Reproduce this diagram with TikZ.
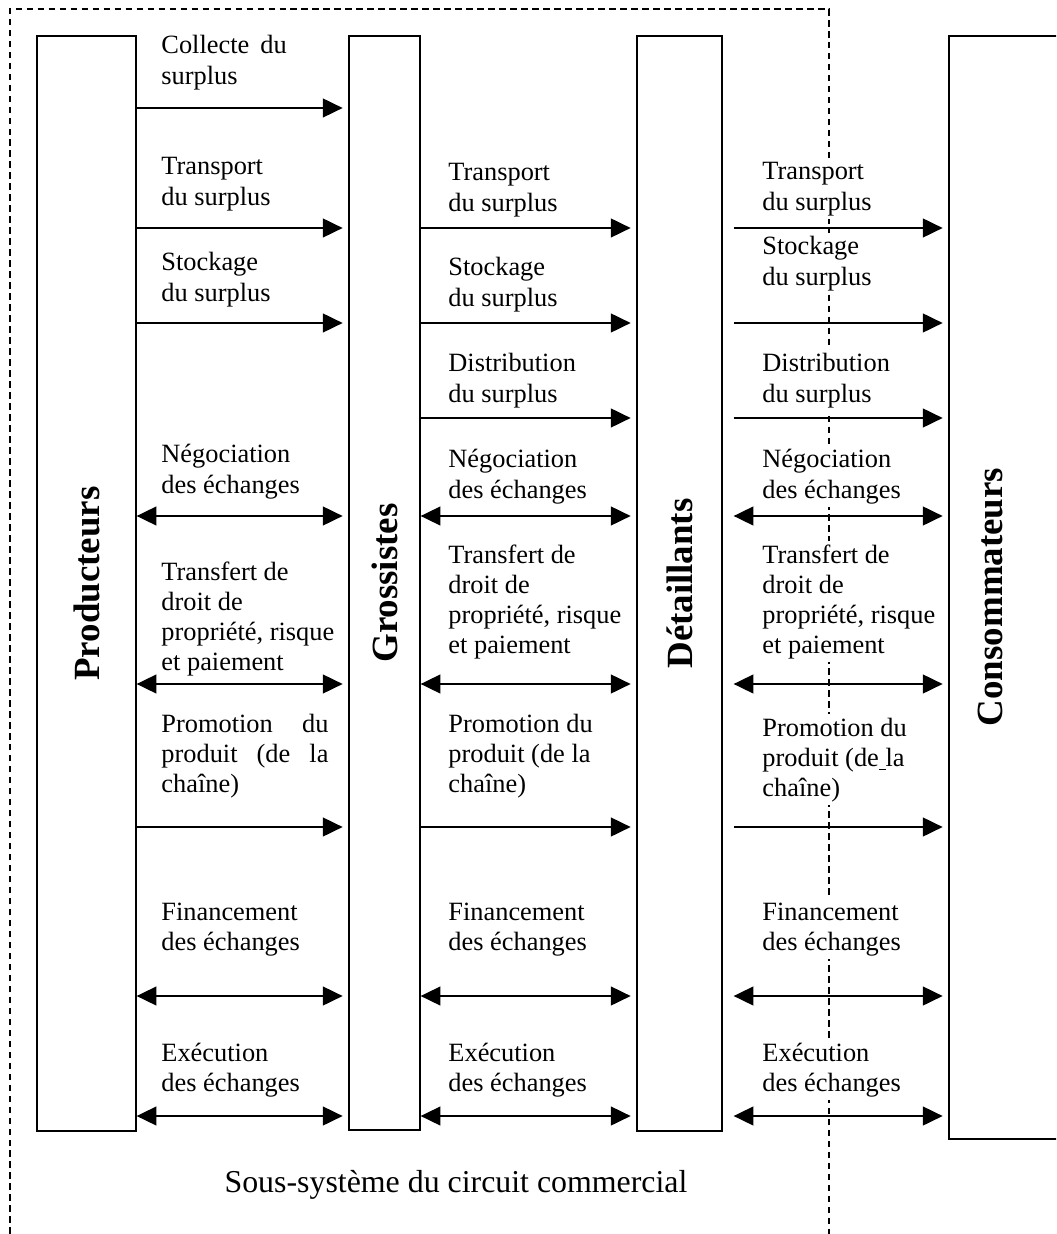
\documentclass[tikz,border=0pt]{standalone}
\usepackage{fontspec}
\setmainfont{Liberation Serif}
\usetikzlibrary{arrows.meta}

\newcommand{\pxu}{0.455pt}

\tikzset{
  func/.style={anchor=base west, align=flush left, text width=80pt, fill=white,
               inner xsep=0pt, inner ysep=1.5pt, font=\fontsize{12}{13.7}\selectfont},
  actor/.style={draw, line width=0.6pt, inner sep=0pt},
}

\begin{document}
\begin{tikzpicture}[x=\pxu, y=-\pxu, >={Triangle[length=9pt,width=8.6pt]}]

      \useasboundingbox (0,0) rectangle (1056,1234);
      \clip (0,0) rectangle (1056,1234);

      % sous-systeme
      \draw[line width=0.5pt, dash pattern=on 3pt off 2pt]
        (10,1234) -- (10,9) -- (829,9) -- (829,1234);

      \foreach \r/\y in {coll/108, trans/228, stock/323, dist/418, nego/516,
                         transf/684, promo/827, fin/996, exec/1116}
        \coordinate (\r) at (0,\y);

      \begin{scope}[every node/.style={func}]
        \node (pg-coll)   at (161,54)   {Collecte\hspace{2pt} du\\surplus};
        \node (pg-trans)  at (161,175)  {Transport\\du surplus};
        \node (pg-stock)  at (161,271)  {Stockage\\du surplus};
        \node (pg-nego)   at (161,463)  {Négociation\\des échanges};
        \node (pg-transf) at (161,580)  {Transfert de\\droit de\\propriété, risque\\et paiement};
        \node[text width=76pt] (pg-promo) at (161,732) {Promotion\hfill du\\produit\hfill (de\hfill la\\chaîne)};
        \node (pg-fin)    at (161,920)  {Financement\\des échanges};
        \node (pg-exec)   at (161,1061) {Exécution\\des échanges};

        \node (gd-trans)  at (448,181)  {Transport\\du surplus};
        \node (gd-stock)  at (448,276)  {Stockage\\du surplus};
        \node (gd-dist)   at (448,372)  {Distribution\\du surplus};
        \node (gd-nego)   at (448,468)  {Négociation\\des échanges};
        \node (gd-transf) at (448,563)  {Transfert de\\droit de\\propriété, risque\\et paiement};
        \node (gd-promo)  at (448,732)  {Promotion du\\produit (de la\\chaîne)};
        \node (gd-fin)    at (448,920)  {Financement\\des échanges};
        \node (gd-exec)   at (448,1061) {Exécution\\des échanges};

        \node (dc-trans)  at (762,180)  {Transport\\du surplus};
        \node (dc-stock)  at (762,255)  {Stockage\\du surplus};
        \node (dc-dist)   at (762,372)  {Distribution\\du surplus};
        \node (dc-nego)   at (762,468)  {Négociation\\des échanges};
        \node (dc-transf) at (762,563)  {Transfert de\\droit de\\propriété, risque\\et paiement};
        \node (dc-promo)  at (762,736)  {Promotion du\\produit (de\underline{\ }la\\chaîne)};
        \node (dc-fin)    at (762,920)  {Financement\\des échanges};
        \node (dc-exec)   at (762,1061) {Exécution\\des échanges};
      \end{scope}

      \begin{scope}[every node/.style={actor}]
        \node[minimum width=99*\pxu, minimum height=1095*\pxu]  (prod) at (86.5,583.5)  {};
        \node[minimum width=71*\pxu, minimum height=1094*\pxu]  (gros) at (384.5,583)   {};
        \node[minimum width=85*\pxu, minimum height=1095*\pxu]  (deta) at (679.5,583.5) {};
        \node[minimum width=161*\pxu, minimum height=1103*\pxu] (cons) at (1029.5,587.5) {};
      \end{scope}

      \begin{scope}[every node/.style={rotate=90, font=\fontsize{16.8}{20}\selectfont\bfseries}]
        \node (prodname) at (prod.center) {Producteurs};
        \node (grosname) at (gros.center) {Grossistes};
        \node (detaname) at (deta.center) {Détaillants};
        \node (consname) at (990,597)     {Consommateurs};
      \end{scope}

      \begin{scope}[every edge/.style={draw, line width=0.7pt, ->, shorten >=2.6pt}]
        \foreach \r in {coll,trans,stock,promo}
          \path (prod.east |- \r) edge (gros.west |- \r);
        \foreach \r in {trans,stock,dist,promo}
          \path (gros.east |- \r) edge (deta.west |- \r)
                (deta.east |- \r) edge[shorten <=5pt] (cons.west |- \r);
      \end{scope}

      \begin{scope}[every edge/.style={draw, line width=0.7pt, <->, shorten >=2.6pt}]
        \foreach \r in {nego,transf,fin,exec}
          \path (prod.east |- \r) edge (gros.west |- \r)
                (gros.east |- \r) edge (deta.west |- \r)
                (deta.east |- \r) edge[shorten <=5pt] (cons.west |- \r);
      \end{scope}

      \node[anchor=base, font=\fontsize{14.5}{17}\selectfont] (sous) at (456,1192)
        {Sous-système du circuit commercial};

    \end{tikzpicture}
\end{document}
